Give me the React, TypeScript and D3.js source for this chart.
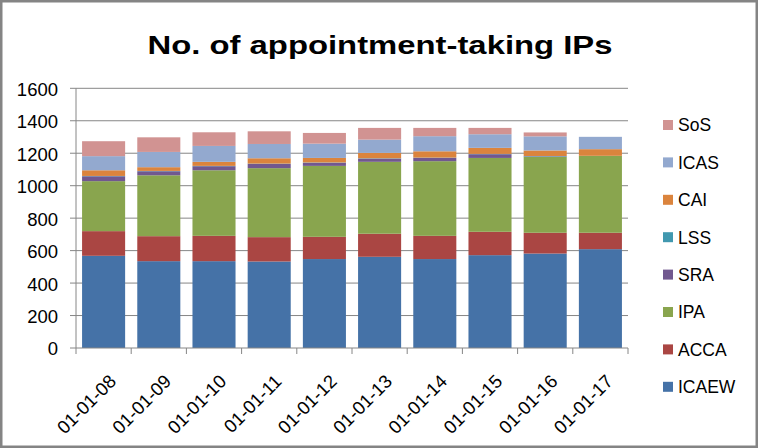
import React from "react";
import * as d3 from "d3";

const categories = [
  "01-01-08", "01-01-09", "01-01-10", "01-01-11", "01-01-12",
  "01-01-13", "01-01-14", "01-01-15", "01-01-16", "01-01-17",
];

const ICAEW = [568, 535, 535, 533, 548, 562, 548, 572, 582, 609];
const ACCA = [152, 154, 156, 150, 137, 142, 143, 144, 128, 101];
const IPA = [308, 375, 404, 425, 437, 443, 460, 455, 468, 474];
const SRA = [30, 25, 25, 26, 19, 20, 20, 23, 3, 0];
const LSS = [2, 2, 2, 2, 2, 2, 2, 2, 2, 0];
const CAI = [35, 23, 25, 33, 28, 33, 39, 37, 34, 41];
const ICAS = [87, 94, 98, 88, 88, 82, 93, 84, 87, 76];
const SoS = [92, 90, 84, 78, 66, 72, 51, 39, 24, 0];

const seriesNames = ["ICAEW", "ACCA", "IPA", "SRA", "LSS", "CAI", "ICAS", "SoS"];
const seriesValues = [ICAEW, ACCA, IPA, SRA, LSS, CAI, ICAS, SoS];
const seriesColors = [
  "#4572A7", "#AA4643", "#89A54E", "#71588F",
  "#4198AF", "#DB843D", "#93A9CF", "#D19392",
];

const yTicks = [0, 200, 400, 600, 800, 1000, 1200, 1400, 1600];

const W = 758;
const H = 448;
const plot = { left: 76, right: 628, top: 88.3, bottom: 348 };
const font = "'Liberation Sans', Arial, sans-serif";

export default function App() {
  const rows = categories.map((c, i) => {
    const r: Record<string, any> = { cat: c };
    seriesNames.forEach((s, k) => (r[s] = seriesValues[k][i]));
    return r;
  });
  const stacked = d3.stack<any>().keys(seriesNames)(rows);

  const x = d3.scaleBand().domain(categories).range([plot.left, plot.right]).paddingInner(0.22).paddingOuter(0.11);
  const y = d3.scaleLinear().domain([0, 1600]).range([plot.bottom, plot.top]);
  const step = x.step();

  return (
    <svg width={W} height={H} style={{ position: "absolute", left: 0, top: 0, background: "#fff" }}>
      <rect x={1.25} y={1.25} width={W - 2.5} height={H - 2.5} fill="#fff" stroke="#848484" strokeWidth={2.5} />
      <text x={380} y={54} textAnchor="middle" fontFamily={font} fontWeight="bold" fontSize={25}
        textLength={465} lengthAdjust="spacingAndGlyphs" fill="#000">
        No. of appointment-taking IPs
      </text>

      {yTicks.map((t) => (
        <g key={t}>
          {t > 0 && <line x1={plot.left} x2={plot.right} y1={y(t)} y2={y(t)} stroke="#868686" strokeWidth={1} />}
          <line x1={plot.left - 6} x2={plot.left} y1={y(t)} y2={y(t)} stroke="#868686" strokeWidth={1} />
          <text x={58} y={y(t) + 1} dy="0.35em" textAnchor="end" fontFamily={font} fontSize={18.5} fill="#000">{t}</text>
        </g>
      ))}

      {stacked.map((layer, k) => (
        <g key={layer.key} fill={seriesColors[k]}>
          {layer.map((d, i) => (
            <rect key={i} x={x(categories[i])} width={x.bandwidth()}
              y={y(d[1])} height={Math.max(0, y(d[0]) - y(d[1]))} />
          ))}
        </g>
      ))}

      <line x1={plot.left} x2={plot.left} y1={plot.top} y2={plot.bottom} stroke="#868686" strokeWidth={1} />
      <line x1={plot.left} x2={plot.right} y1={plot.bottom} y2={plot.bottom} stroke="#868686" strokeWidth={1} />
      {d3.range(categories.length + 1).map((i) => (
        <line key={i} x1={plot.left + i * step} x2={plot.left + i * step} y1={plot.bottom} y2={plot.bottom + 6}
          stroke="#868686" strokeWidth={1} />
      ))}

      {categories.map((c) => {
        const cx = (x(c) as number) + x.bandwidth() / 2;
        return (
          <text key={c} transform={`translate(${cx + 9},${378}) rotate(-45)`} dy="0.35em" textAnchor="end"
            fontFamily={font} fontSize={18.5} fill="#000">{c}</text>
        );
      })}

      {seriesNames.slice().reverse().map((s, i) => {
        const k = seriesNames.length - 1 - i;
        const cy = 125 + i * 37.4;
        return (
          <g key={s}>
            <rect x={663} y={cy - 5} width={10} height={10} fill={seriesColors[k]} />
            <text x={678} y={cy} dy="0.36em" fontFamily={font} fontSize={17.5} fill="#000">{s}</text>
          </g>
        );
      })}
    </svg>
  );
}
